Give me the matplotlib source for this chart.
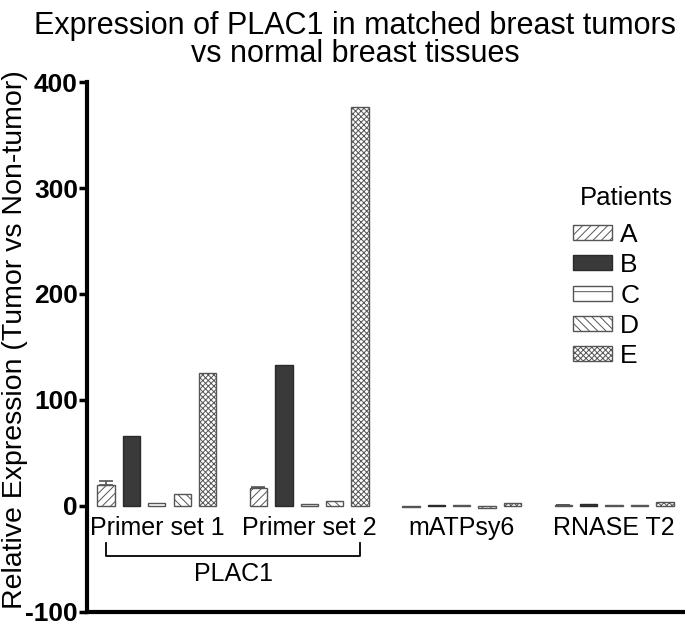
import matplotlib.pyplot as plt
import numpy as np

plt.rcParams['font.family'] = ['Liberation Sans', 'DejaVu Sans']
plt.rcParams['hatch.linewidth'] = 0.7
plt.rcParams['axes.unicode_minus'] = False

groups = ["Primer set 1", "Primer set 2", "mATPsy6", "RNASE T2"]
patients = ["A", "B", "C", "D", "E"]

# relative expression per patient, one value per group
vals_A = [20, 17, -1, 1]
vals_B = [66, 133, 1, 1.5]
vals_C = [3, 2, 1, 1]
vals_D = [11, 5, -2, 1]
vals_E = [125, 376, 3, 4]
err_A = [4, 1, 0, 0]

series = [vals_A, vals_B, vals_C, vals_D, vals_E]
faces = ["white", "#3a3a3a", "white", "white", "white"]
hatches = ["////", None, "-", "\\\\\\\\", "xxxxxx"]
edges = ["#555555", "#2a2a2a", "#555555", "#555555", "#555555"]

fig = plt.figure(figsize=(6.85, 6.26), dpi=100)
ax = fig.add_axes([0.127, 0.0224, 0.870, 0.8466])

gap = 6
xg = np.arange(len(groups)) * gap
for i, p in enumerate(patients):
    ax.bar(xg + i, series[i], width=0.68, color=faces[i], hatch=hatches[i],
           edgecolor=edges[i], linewidth=1.0, label=p, zorder=2)

ax.errorbar(xg, vals_A, yerr=[np.zeros(len(groups)), err_A], fmt="none",
            ecolor="#555555", elinewidth=1.2, capsize=5, capthick=1.2, zorder=1)

ax.set_ylim(-100, 400)
ax.set_xlim(-0.75, 22.71)
ax.set_yticks([-100, 0, 100, 200, 300, 400])
ax.set_xticks([])
ax.tick_params(axis="y", labelsize=19, width=2.5, length=6, pad=0.5)
for t in ax.get_yticklabels():
    t.set_fontweight("bold")
for s in ["top", "right"]:
    ax.spines[s].set_visible(False)
ax.spines["left"].set_linewidth(3)
ax.spines["bottom"].set_linewidth(3)

fig.text(15 / 685, 1 - 340 / 626, "Relative Expression (Tumor vs Non-tumor)",
         rotation=90, ha="center", va="center", fontsize=20.5)

for g, name in zip(xg, groups):
    ax.text(g + 2, -21, name, ha="center", va="center", fontsize=18)

# bracket under PLAC1 primer sets
ax.plot([0, 0, 10, 10], [-35, -47, -47, -35], color="black", lw=1.3)
ax.text(5, -64, "PLAC1", ha="center", va="center", fontsize=18)

fig.text(0.518, 1 - 40 / 626, "Expression of PLAC1 in matched breast tumors\nvs normal breast tissues",
         ha="center", va="center", fontsize=22, linespacing=0.95)

leg = ax.legend(loc="upper left", bbox_to_anchor=(0.815, 0.734),
                frameon=False, fontsize=19, handlelength=1.5,
                handleheight=0.5, handletextpad=0.3, labelspacing=0.24,
                borderaxespad=0, borderpad=0)
fig.text(626 / 685, 1 - 198 / 626, "Patients", ha="center", va="center", fontsize=18.5)

plt.savefig("out.png", dpi=100)
